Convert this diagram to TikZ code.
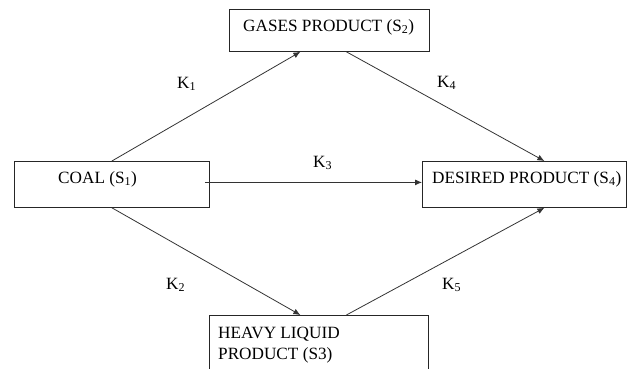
\documentclass[tikz,border=0pt]{standalone}
\usepackage{fontspec}
\setmainfont{Liberation Serif}
\usetikzlibrary{arrows.meta}
\begin{document}
\begin{tikzpicture}[x=1pt,y=-1pt,
  boxnode/.style={draw=black!85,line width=0.8pt,rectangle,inner sep=0pt,anchor=north west},
  txt/.style={anchor=base west,inner sep=0pt,font=\fontsize{17.2}{21}\selectfont},
  conn/.style={draw=black!80,line width=0.8pt,-{Latex[length=7pt,width=6pt]}}]
\useasboundingbox (0,0) rectangle (629,368);
\node[boxnode,minimum width=200pt,minimum height=42pt] (gases) at (229,9) {};
\node[boxnode,minimum width=195pt,minimum height=46pt] (coal) at (14,161) {};
\node[boxnode,minimum width=204pt,minimum height=46pt] (desired) at (422,161) {};
\node[boxnode,minimum width=219pt,minimum height=58pt] (heavy) at (209,315) {};
\node[txt] (tg) at (243,31) {GASES PRODUCT (S\textsubscript{2})};
\node[txt] (tc) at (58,183) {COAL (S\textsubscript{1})};
\node[txt] (td) at (432,183) {DESIRED PRODUCT (S\textsubscript{4})};
\node[txt,align=left] (th) at (218,359) {HEAVY LIQUID\\PRODUCT (S3)};
\draw[conn] (coal.north) -- ([xshift=-29pt]gases.south);
\draw[conn] ([xshift=17pt]gases.south) -- ([xshift=20pt]desired.north);
\draw[conn] ([xshift=-5pt,yshift=2pt]coal.east) -- ([yshift=2pt]desired.west);
\draw[conn] (coal.south) -- ([xshift=-18.5pt]heavy.north);
\draw[conn] ([xshift=27.5pt]heavy.north) -- ([xshift=20pt]desired.south);
\node[txt] (k1) at (177,88) {K\textsubscript{1}};
\node[txt] (k4) at (437,87) {K\textsubscript{4}};
\node[txt] (k3) at (313,167) {K\textsubscript{3}};
\node[txt] (k2) at (166,289) {K\textsubscript{2}};
\node[txt] (k5) at (442,289) {K\textsubscript{5}};
\end{tikzpicture}
\end{document}
